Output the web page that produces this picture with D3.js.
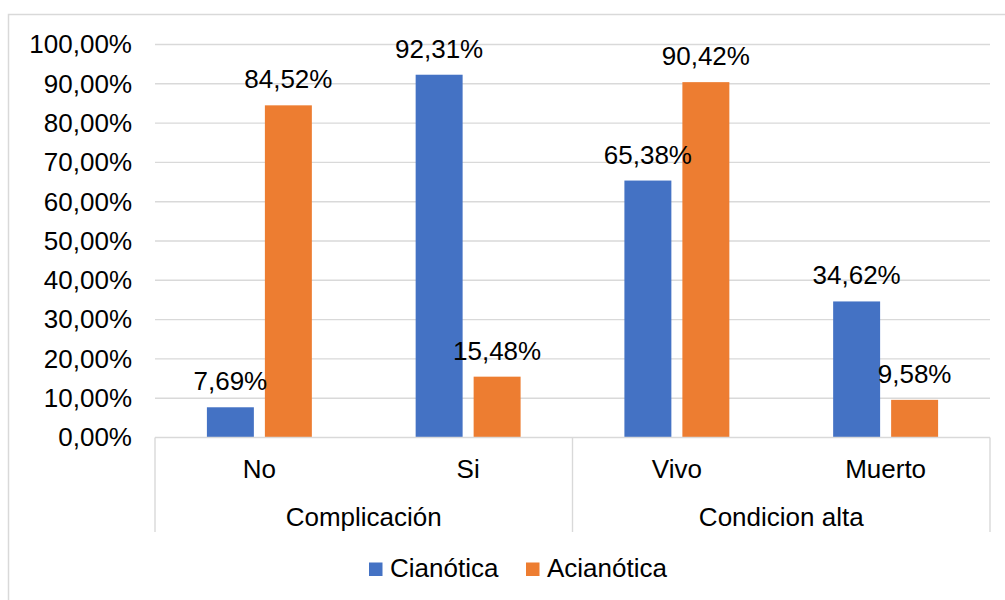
<!DOCTYPE html>
<html>
<head>
<meta charset="utf-8">
<script src="https://cdn.jsdelivr.net/npm/d3@7"></script>
<style>
  html, body { margin: 0; padding: 0; background: #fff; }
  svg { display: block; font-family: "Liberation Sans", Arial, sans-serif; }
</style>
</head>
<body>
<svg id="chart" width="1005" height="600"></svg>
<script>
// Categories: inner level (subcategory) and outer level (group)
const subcategories = ["No", "Si", "Vivo", "Muerto"];
const groups = ["Complicación", "Complicación", "Condicion alta", "Condicion alta"];
const groupNames = ["Complicación", "Condicion alta"];

// Series values (percent)
const seriesNames = ["Cianótica", "Acianótica"];
const cianotica = [7.69, 92.31, 65.38, 34.62];
const acianotica = [84.52, 15.48, 90.42, 9.58];

// Y-axis tick values
const yTicks = [0, 10, 20, 30, 40, 50, 60, 70, 80, 90, 100];

const colors = ["#4472C4", "#ED7D31"];
const gridColor = "#d9d9d9";
const fontSize = 26;

const svg = d3.select("#chart");
const plot = { left: 155, right: 990, top: 44.5, bottom: 437.5 };

const locale = d3.formatLocale({ decimal: ",", thousands: ".", grouping: [3], currency: ["", "€"] });
const fmt = v => locale.format(".2f")(v) + "%";

const y = d3.scaleLinear().domain([0, 100]).range([plot.bottom, plot.top]);
const x0 = d3.scaleBand().domain(subcategories).range([plot.left, plot.right]);
const x1 = d3.scaleBand().domain(seriesNames).range([0, x0.bandwidth()])
  .paddingInner(0.19).paddingOuter(0.895);

// Chart frame
svg.append("rect")
  .attr("x", 8.5).attr("y", 14.5)
  .attr("width", 1010).attr("height", 600)
  .attr("fill", "none").attr("stroke", gridColor).attr("stroke-width", 1.5);

// Gridlines
svg.append("g")
  .selectAll("line")
  .data(yTicks.filter(t => t > 0))
  .join("line")
  .attr("x1", plot.left).attr("x2", plot.right)
  .attr("y1", d => y(d)).attr("y2", d => y(d))
  .attr("stroke", gridColor).attr("stroke-width", 1.4);

// Y axis labels
const yAxis = d3.axisLeft(y).tickValues(yTicks).tickFormat(fmt).tickSize(0).tickPadding(23);
const yg = svg.append("g").attr("transform", `translate(${plot.left},0)`).call(yAxis);
yg.select(".domain").remove();
yg.selectAll("text")
  .attr("font-size", fontSize)
  .attr("font-family", "Liberation Sans, Arial, sans-serif")
  .attr("fill", "#000");

// Bars
const rows = subcategories.map((c, i) => ({ cat: c, vals: [cianotica[i], acianotica[i]] }));
const catG = svg.append("g").selectAll("g")
  .data(rows)
  .join("g")
  .attr("transform", d => `translate(${x0(d.cat)},0)`);

catG.selectAll("rect")
  .data(d => d.vals.map((v, j) => ({ s: seriesNames[j], v, j })))
  .join("rect")
  .attr("x", d => x1(d.s))
  .attr("width", x1.bandwidth())
  .attr("y", d => y(d.v))
  .attr("height", d => y(0) - y(d.v))
  .attr("fill", d => colors[d.j]);

// Data labels
catG.selectAll("text")
  .data(d => d.vals.map((v, j) => ({ s: seriesNames[j], v, j })))
  .join("text")
  .attr("x", d => x1(d.s) + x1.bandwidth() / 2)
  .attr("y", d => y(d.v) - 17)
  .attr("text-anchor", "middle")
  .attr("font-size", fontSize)
  .attr("fill", "#000")
  .text(d => fmt(d.v));

// Category axis line
svg.append("line")
  .attr("x1", plot.left).attr("x2", plot.right)
  .attr("y1", plot.bottom).attr("y2", plot.bottom)
  .attr("stroke", gridColor).attr("stroke-width", 1.4);

// Group separators (multi-level axis)
const groupExtents = groupNames.map(g => {
  const cats = subcategories.filter((c, i) => groups[i] === g);
  return { name: g, x0: x0(cats[0]), x1: x0(cats[cats.length - 1]) + x0.bandwidth() };
});
const sepX = [plot.left, ...groupExtents.map(g => g.x1)];
svg.append("g").selectAll("line")
  .data(sepX)
  .join("line")
  .attr("x1", d => d).attr("x2", d => d)
  .attr("y1", plot.bottom).attr("y2", 532)
  .attr("stroke", gridColor).attr("stroke-width", 1.4);

// Inner category labels
svg.append("g").selectAll("text")
  .data(subcategories)
  .join("text")
  .attr("x", d => x0(d) + x0.bandwidth() / 2)
  .attr("y", 478)
  .attr("text-anchor", "middle")
  .attr("font-size", fontSize)
  .attr("fill", "#000")
  .text(d => d);

// Outer group labels
svg.append("g").selectAll("text")
  .data(groupExtents)
  .join("text")
  .attr("x", d => (d.x0 + d.x1) / 2)
  .attr("y", 526)
  .attr("text-anchor", "middle")
  .attr("font-size", fontSize)
  .attr("fill", "#000")
  .text(d => d.name);

// Legend
const legendItems = [
  { name: seriesNames[0], color: colors[0], x: 369 },
  { name: seriesNames[1], color: colors[1], x: 526 }
];
const lg = svg.append("g").selectAll("g")
  .data(legendItems)
  .join("g")
  .attr("transform", d => `translate(${d.x},0)`);
lg.append("rect")
  .attr("x", 0).attr("y", 562.5)
  .attr("width", 13.5).attr("height", 13.5)
  .attr("fill", d => d.color);
lg.append("text")
  .attr("x", 21).attr("y", 577)
  .attr("font-size", fontSize)
  .attr("fill", "#000")
  .text(d => d.name);
</script>
</body>
</html>
